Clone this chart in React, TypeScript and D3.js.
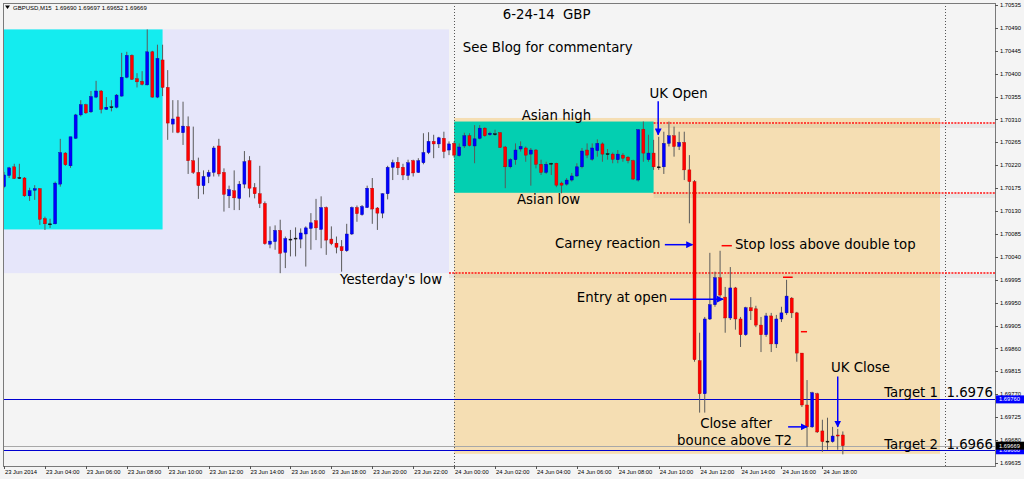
import * as d3 from "d3";

// GBPUSD M15, bar 0 = 23 Jun 2014 02:00
const opens = [
  1.70178, 1.702, 1.70217, 1.70196, 1.70195, 1.7016, 1.70171, 1.70174, 1.70115, 1.70105,
  1.70105, 1.70183, 1.70244, 1.70219, 1.70273, 1.70319, 1.70339, 1.70325, 1.70354, 1.70366,
  1.7033, 1.70335, 1.70334, 1.70356, 1.70393, 1.70436, 1.7039, 1.70385, 1.70378, 1.70443,
  1.70354, 1.70427, 1.70373, 1.70301, 1.70315, 1.70284, 1.70296, 1.70229, 1.70206, 1.7018,
  1.70198, 1.70206, 1.70258, 1.70206, 1.7016, 1.7017, 1.70155, 1.70183, 1.70229, 1.70176,
  1.70164, 1.70145, 1.70065, 1.7007, 1.70092, 1.70049, 1.70075, 1.70076, 1.70075, 1.70085,
  1.70096, 1.70111, 1.70094, 1.70137, 1.70075, 1.70067, 1.7006, 1.70052, 1.70085, 1.70137,
  1.70123, 1.70137, 1.70175, 1.70136, 1.70126, 1.70164, 1.70216, 1.70226, 1.70216, 1.702,
  1.70229, 1.70206, 1.70225, 1.70245, 1.70267, 1.70262, 1.70273, 1.7025, 1.70263, 1.70239,
  1.70258, 1.70278, 1.70258, 1.70273, 1.70293, 1.7028, 1.70282, 1.70284, 1.70256, 1.70217,
  1.70231, 1.70252, 1.70254, 1.70242, 1.7025, 1.70222, 1.70206, 1.70223, 1.70224, 1.70185,
  1.70183, 1.70191, 1.70199, 1.70217, 1.7025, 1.70232, 1.70249, 1.70262, 1.70243, 1.70242,
  1.70231, 1.7024, 1.70236, 1.70229, 1.70191, 1.70291, 1.70231, 1.70244, 1.70217, 1.70217,
  1.70263, 1.70278, 1.70257, 1.70265, 1.70211, 1.70188, 1.69836, 1.69771, 1.69918, 1.69946,
  1.69999, 1.69961, 1.6992, 1.69979, 1.69918, 1.69887, 1.6994, 1.69938, 1.69906, 1.69887,
  1.69924, 1.69869, 1.69918, 1.6993, 1.69959, 1.6993, 1.69851, 1.69749, 1.69706, 1.69771,
  1.69698, 1.69678, 1.69677, 1.6969, 1.6969,
];
const highs = [
  1.70207, 1.70217, 1.70223, 1.70223, 1.70197, 1.70176, 1.70181, 1.70175, 1.70119, 1.70115,
  1.70188, 1.70272, 1.70246, 1.70276, 1.70321, 1.70348, 1.70341, 1.70366, 1.70386, 1.70368,
  1.70354, 1.70348, 1.7036, 1.70441, 1.70443, 1.70438, 1.70401, 1.70405, 1.70487, 1.70445,
  1.70457, 1.70457, 1.70407, 1.70348, 1.70348, 1.70345, 1.70316, 1.70296, 1.70235, 1.7021,
  1.70211, 1.70258, 1.70272, 1.70214, 1.7018, 1.7021, 1.70189, 1.70248, 1.70238, 1.70185,
  1.70219, 1.70149, 1.701, 1.70102, 1.70113, 1.7008, 1.70093, 1.70098, 1.70096, 1.701,
  1.70126, 1.70154, 1.70159, 1.70139, 1.701, 1.7008, 1.70073, 1.70105, 1.70139, 1.70141,
  1.70142, 1.7018, 1.70195, 1.70138, 1.70165, 1.70219, 1.70231, 1.70236, 1.70223, 1.70231,
  1.70231, 1.70234, 1.70283, 1.70285, 1.7028, 1.70276, 1.70286, 1.70267, 1.70267, 1.70263,
  1.70284, 1.70283, 1.70299, 1.70299, 1.70295, 1.70286, 1.7029, 1.70285, 1.70258, 1.70234,
  1.70263, 1.70267, 1.70257, 1.70254, 1.70252, 1.70231, 1.70227, 1.70225, 1.70225, 1.70188,
  1.70195, 1.70205, 1.70224, 1.70254, 1.70263, 1.70263, 1.70271, 1.70265, 1.70252, 1.70245,
  1.7025, 1.70244, 1.70238, 1.70231, 1.70291, 1.70306, 1.7028, 1.7027, 1.70276, 1.70286,
  1.70306, 1.70296, 1.70286, 1.70286, 1.7024, 1.70191, 1.69891, 1.69922, 1.70048, 1.70011,
  1.70052, 1.69981, 1.7002, 1.69981, 1.69922, 1.69942, 1.69961, 1.69944, 1.69922, 1.6993,
  1.6993, 1.69926, 1.69942, 1.69995, 1.69961, 1.69932, 1.69851, 1.69798, 1.69775, 1.69773,
  1.6972, 1.69724, 1.69706, 1.69702, 1.69697,
];
const lows = [
  1.70175, 1.70195, 1.70193, 1.70193, 1.70158, 1.7015, 1.70152, 1.70103, 1.70093, 1.70097,
  1.70104, 1.70178, 1.70219, 1.70215, 1.70272, 1.70316, 1.70321, 1.70323, 1.70352, 1.70322,
  1.70329, 1.70326, 1.70332, 1.70355, 1.70391, 1.70388, 1.70373, 1.70377, 1.70377, 1.70353,
  1.70352, 1.70356, 1.7027, 1.70284, 1.70283, 1.7026, 1.70203, 1.70203, 1.70154, 1.70163,
  1.70185, 1.70198, 1.70198, 1.70129, 1.70136, 1.70132, 1.70132, 1.70175, 1.70157, 1.70155,
  1.70136, 1.70064, 1.70057, 1.70054, 1.70008, 1.70018, 1.70041, 1.70041, 1.70057, 1.70021,
  1.70054, 1.70073, 1.70057, 1.70044, 1.70063, 1.70047, 1.70011, 1.7005, 1.70083, 1.70109,
  1.70121, 1.70136, 1.70105, 1.70093, 1.70116, 1.70153, 1.70191, 1.70201, 1.70191, 1.70191,
  1.70198, 1.70205, 1.70222, 1.70242, 1.70234, 1.70254, 1.70234, 1.7024, 1.70235, 1.70237,
  1.70254, 1.70257, 1.70224, 1.70271, 1.70276, 1.70278, 1.70278, 1.70254, 1.70175, 1.70214,
  1.70221, 1.70247, 1.70227, 1.7018, 1.70214, 1.70201, 1.70203, 1.70201, 1.70177, 1.70165,
  1.7018, 1.70188, 1.70197, 1.70214, 1.70234, 1.70229, 1.70237, 1.70227, 1.70231, 1.70224,
  1.70224, 1.70227, 1.70224, 1.70191, 1.70188, 1.70227, 1.70227, 1.70211, 1.70211, 1.70203,
  1.70257, 1.70237, 1.7025, 1.70191, 1.70106, 1.69834, 1.69734, 1.69734, 1.69916, 1.69942,
  1.69961, 1.69891, 1.69916, 1.69897, 1.69863, 1.69885, 1.69916, 1.69902, 1.69853, 1.69883,
  1.69853, 1.69861, 1.69912, 1.69926, 1.6992, 1.69834, 1.69745, 1.69667, 1.69704, 1.69694,
  1.69657, 1.69661, 1.69675, 1.69661, 1.69652,
];
const closes = [
  1.70201, 1.70215, 1.70194, 1.70196, 1.7016, 1.7017, 1.70174, 1.70114, 1.70105, 1.70105,
  1.70185, 1.70245, 1.70221, 1.70276, 1.70319, 1.70339, 1.70323, 1.70355, 1.70366, 1.7033,
  1.70334, 1.70335, 1.70358, 1.70393, 1.70436, 1.70389, 1.70384, 1.70379, 1.70443, 1.70354,
  1.7043, 1.70373, 1.70303, 1.70311, 1.70285, 1.70297, 1.70229, 1.70206, 1.7018, 1.70198,
  1.70206, 1.70254, 1.70203, 1.70163, 1.70172, 1.70156, 1.70183, 1.70227, 1.70175, 1.70164,
  1.70145, 1.70066, 1.70071, 1.70092, 1.70047, 1.70076, 1.70075, 1.70077, 1.70087, 1.70097,
  1.70107, 1.70097, 1.70137, 1.70073, 1.70066, 1.70059, 1.70052, 1.70085, 1.70137, 1.70125,
  1.70139, 1.70175, 1.70134, 1.70126, 1.70164, 1.70216, 1.70225, 1.70215, 1.70201, 1.70225,
  1.70205, 1.70229, 1.70245, 1.70267, 1.70262, 1.70274, 1.70247, 1.70262, 1.7024, 1.70256,
  1.70278, 1.70259, 1.70272, 1.70293, 1.70278, 1.70283, 1.70282, 1.70255, 1.70217, 1.70231,
  1.7025, 1.70257, 1.7024, 1.7025, 1.70222, 1.70206, 1.70222, 1.70224, 1.70181, 1.70181,
  1.70191, 1.70199, 1.70217, 1.70248, 1.7024, 1.70254, 1.70263, 1.70242, 1.70243, 1.70232,
  1.70242, 1.70234, 1.70229, 1.70193, 1.7029, 1.70244, 1.70244, 1.70217, 1.70217, 1.70263,
  1.70278, 1.70257, 1.70265, 1.70211, 1.70188, 1.69838, 1.69771, 1.69918, 1.69946, 1.69999,
  1.69965, 1.6992, 1.69979, 1.69918, 1.69887, 1.6994, 1.69934, 1.69906, 1.69887, 1.69924,
  1.69869, 1.69918, 1.6993, 1.69963, 1.6993, 1.69851, 1.69749, 1.69706, 1.69773, 1.69696,
  1.69677, 1.69677, 1.69688, 1.69688, 1.69669,
];

const priceTicks = [
  "1.70535", "1.70490", "1.70445", "1.70400", "1.70355", "1.70310", "1.70265",
  "1.70220", "1.70175", "1.70130", "1.70085", "1.70040", "1.69995", "1.69950",
  "1.69905", "1.69860", "1.69815", "1.69770", "1.69725", "1.69680", "1.69635",
];
// one label every 8 bars (2 hours)
const timeTicks = [
  "23 Jun 2014", "23 Jun 04:00", "23 Jun 06:00", "23 Jun 08:00", "23 Jun 10:00",
  "23 Jun 12:00", "23 Jun 14:00", "23 Jun 16:00", "23 Jun 18:00", "23 Jun 20:00",
  "23 Jun 22:00", "24 Jun 00:00", "24 Jun 02:00", "24 Jun 04:00", "24 Jun 06:00",
  "24 Jun 08:00", "24 Jun 10:00", "24 Jun 12:00", "24 Jun 14:00", "24 Jun 16:00",
  "24 Jun 18:00",
];
const separatorBars = [88, 184];

// boxes: yesterday, yesterday asia, today, today asia
const boxStart = [-4, -4, 88, 88];
const boxEnd = [87, 31, 183, 127];
const boxTop = [1.70487, 1.70487, 1.70313, 1.70306];
const boxBottom = [1.70008, 1.70094, 1.69653, 1.70166];
const boxFills = ["#e6e6fa", "#14ecef", "#f5deb3", "#03cfb1"];

// red dotted levels: asian high, asian low, yesterday's low
const levelStart = [127, 127, 87];
const levelPrice = [1.70304, 1.70165, 1.70008];

const targetPrices = [1.6976, 1.6966];
const bidPrice = 1.69669;

const stopBar0 = [140.3, 152.3, 155.8];
const stopBar1 = [142.3, 154.2, 157.0];
const stopPrice = [1.70062, 1.7, 1.69893];

const arrowBar0 = [127.9, 129.2, 130.2, 163.0, 153.3];
const arrowPrice0 = [1.70346, 1.70064, 1.69957, 1.69805, 1.69706];
const arrowBar1 = [127.9, 134.6, 140.6, 163.0, 157.0];
const arrowPrice1 = [1.7028, 1.70064, 1.69957, 1.69706, 1.69706];

const noteText = [
  "6-24-14  GBP", "See Blog for commentary", "UK Open", "Asian high", "Asian low",
  "Yesterday's low", "Carney reaction", "Stop loss above double top", "Entry at open",
  "UK Close", "Close after", "bounce above T2",
];
const noteBar = [97.5, 89.7, 126.2, 101.2, 100.3, 65.7, 107.7, 142.9, 112.0, 161.7, 136.1, 131.6];
const notePrice = [1.70516, 1.70451, 1.70362, 1.70317, 1.70152, 1.69995, 1.70066, 1.70064, 1.69961, 1.69822, 1.69712, 1.6968];

const targetText = ["Target 1  1.6976", "Target 2  1.6966"];
const targetTextPrice = [1.69773, 1.69671];

const W = 1024;
const H = 479;
const plot = { left: 3, right: 995, top: 3, bottom: 466 };

export default function App() {
  const x = d3.scaleLinear().domain([-0.2, 193.75]).range([plot.left, plot.right]);
  const y = d3.scaleLinear().domain([1.69635, 1.70535]).range([463, 5]);
  const px = (v: number) => Math.round(v) + 0.5; // snap 1px lines
  const bw = 3;
  const axisFont = "'Liberation Sans', Arial, sans-serif";
  const noteFont = "'DejaVu Sans', Verdana, sans-serif";

  return (
    <svg
      width={W}
      height={H}
      style={{ position: "absolute", left: 0, top: 0, display: "block" }}
    >
      <defs>
        <clipPath id="plotclip">
          <rect x={plot.left} y={plot.top} width={plot.right - plot.left} height={plot.bottom - plot.top} />
        </clipPath>
        <marker id="ah" viewBox="0 0 10 10" refX="9" refY="5" markerWidth="7" markerHeight="7"
          markerUnits="userSpaceOnUse" orient="auto">
          <path d="M0,0L10,5L0,10z" fill="#0000ff" />
        </marker>
      </defs>
      <rect x={0} y={0} width={W} height={H} fill="#f4f4f4" />

      <g clipPath="url(#plotclip)">
        {boxStart.map((b, i) => (
          <rect key={"box" + i} x={x(b)} y={y(boxTop[i])} width={x(boxEnd[i]) - x(b)}
            height={y(boxBottom[i]) - y(boxTop[i])} fill={boxFills[i]} />
        ))}

        {separatorBars.map((b) => (
          <line key={"sep" + b} x1={px(x(b))} x2={px(x(b))} y1={plot.top} y2={plot.bottom}
            stroke="#555" strokeDasharray="1,2" />
        ))}

        {levelStart.map((b, i) => (
          <g key={"lvl" + i}>
            <rect x={x(b)} y={Math.round(y(levelPrice[i])) + 1} width={plot.right - x(b)} height={4} fill="#000" opacity={0.05} />
            <line x1={x(b)} x2={plot.right} y1={Math.round(y(levelPrice[i]))} y2={Math.round(y(levelPrice[i]))}
              stroke="#ff1010" strokeWidth={1.3} strokeDasharray="2,1.2" />
          </g>
        ))}

        <line x1={plot.left} x2={plot.right} y1={px(y(bidPrice))} y2={px(y(bidPrice))} stroke="#a8a8a8" />
        {targetPrices.map((p) => (
          <line key={"t" + p} x1={plot.left} x2={plot.right} y1={px(y(p))} y2={px(y(p))} stroke="#0000d0" />
        ))}

        {opens.map((o, i) => {
          const c = closes[i];
          const cx = x(i);
          const top = y(Math.max(o, c));
          const h = Math.max(1, Math.abs(y(o) - y(c)));
          const doji = Math.abs(c - o) < 0.00002;
          const col = doji ? "#111" : c > o ? "#0000ff" : "#ff0000";
          const edge = doji ? "#111" : c > o ? "#00009a" : "#b00000";
          return (
            <g key={"c" + i}>
              <line x1={cx} x2={cx} y1={y(highs[i])} y2={y(lows[i])} stroke="#5a5a5a" />
              <rect x={cx - bw / 2} y={top} width={bw} height={h} fill={col} stroke={edge} strokeWidth={0.4} />
            </g>
          );
        })}

        {stopBar0.map((b, i) => (
          <line key={"sl" + i} x1={x(b)} x2={x(stopBar1[i])} y1={y(stopPrice[i])} y2={y(stopPrice[i])}
            stroke="#ff0000" strokeWidth={1.5} />
        ))}

        {arrowBar0.map((b, i) => (
          <line key={"ar" + i} x1={x(b)} y1={y(arrowPrice0[i])} x2={x(arrowBar1[i])} y2={y(arrowPrice1[i])}
            stroke="#0000ff" strokeWidth={1.5} markerEnd="url(#ah)" />
        ))}

        {noteText.map((t, i) => (
          <text key={"n" + i} x={x(noteBar[i])} y={y(notePrice[i])} dominantBaseline="central"
            fontFamily={noteFont} fontSize={13.3} fill="#000" style={{ whiteSpace: "pre" }}>{t}</text>
        ))}
        {targetText.map((t, i) => (
          <text key={"tt" + i} x={993} y={y(targetTextPrice[i])} dominantBaseline="central" textAnchor="end"
            fontFamily={noteFont} fontSize={13.3} fill="#000" style={{ whiteSpace: "pre" }}>{t}</text>
        ))}
      </g>

      <rect x={plot.left + 0.5} y={plot.top + 0.5} width={plot.right - plot.left} height={plot.bottom - plot.top}
        fill="none" stroke="#7a7a7a" />

      {/* header */}
      <path d="M5,5.5L10,5.5L7.5,9z" fill="#000" />
      <text x={13} y={7.5} dominantBaseline="central" fontFamily={axisFont} fontSize={6} fill="#000"
        style={{ whiteSpace: "pre" }}>
        {"GBPUSD,M15  " + [opens[164], highs[164], lows[164], closes[164]].map((v) => v.toFixed(5)).join(" ")}
      </text>

      {/* price axis */}
      {priceTicks.map((t) => (
        <g key={"p" + t}>
          <line x1={plot.right} x2={plot.right + 3} y1={px(y(+t))} y2={px(y(+t))} stroke="#555" />
          <text x={1000} y={y(+t)} dominantBaseline="central" fontFamily={axisFont} fontSize={5.8} fill="#000">{t}</text>
        </g>
      ))}
      {[targetPrices[0], targetPrices[1], bidPrice].map((p, i) => (
        <g key={"cur" + i}>
          <rect x={996} y={y(p) - 4} width={28} height={8} fill={i === 2 ? "#000" : "#0000ff"} />
          <text x={999} y={y(p)} dominantBaseline="central" fontFamily={axisFont} fontSize={5.8} fill="#fff">
            {p.toFixed(5)}
          </text>
        </g>
      ))}

      {/* time axis */}
      {timeTicks.map((t, k) => (
        <g key={"tm" + k}>
          <line x1={px(x(k * 8))} x2={px(x(k * 8))} y1={plot.bottom} y2={plot.bottom + 3} stroke="#555" />
          <text x={x(k * 8) + 1} y={471.5} dominantBaseline="central" fontFamily={axisFont} fontSize={5.8} fill="#000">{t}</text>
        </g>
      ))}
    </svg>
  );
}
